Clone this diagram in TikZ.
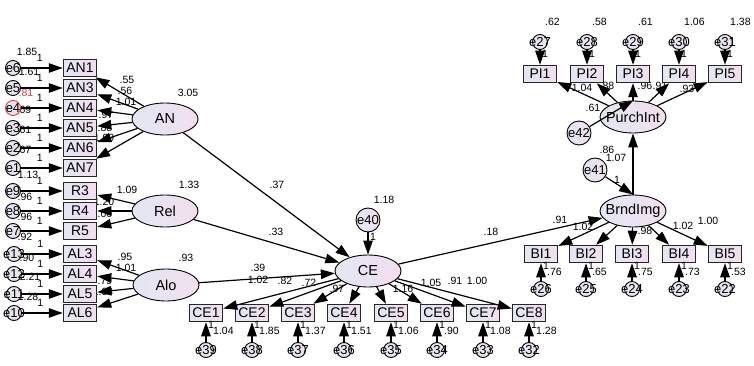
\documentclass[tikz,border=0pt]{standalone}
\usepackage{fontspec}
\setmainfont{Liberation Sans}
\usepackage{xcolor}
\usepackage{tikz}
\usetikzlibrary{arrows.meta,shapes.geometric}

\definecolor{fillL}{RGB}{226,231,243}
\definecolor{fillR}{RGB}{242,222,238}
\definecolor{selred}{RGB}{225,60,60}
\newcommand{\ctr}[1]{\makebox[0pt]{#1}}

\begin{document}
\begin{tikzpicture}[
  x=1pt, y=-1pt,
  >={Triangle[length=14pt,width=9.5pt]},
  obs/.style={rectangle, draw=black!85, line width=1.5pt, minimum width=33pt,
              minimum height=17pt, inner sep=0pt, left color=fillL, right color=fillR,
              font=\fontsize{14}{14}\selectfont},
  lat/.style={ellipse, draw, line width=0.9pt, minimum width=66pt, minimum height=32pt,
              inner sep=0pt, left color=fillL, right color=fillR,
              font=\fontsize{14.5}{14}\selectfont},
  err/.style={circle, draw, line width=0.9pt, minimum size=15pt, inner sep=0pt,
              left color=fillL, right color=fillR, font=\fontsize{13}{13}\selectfont},
  dist/.style={err, minimum size=24pt},
  arr/.style={->, line width=1.2pt},
  num/.style={font=\fontsize{10.5}{10}\selectfont, inner sep=0pt},
  one/.style={num, above=6pt},
]
\useasboundingbox[fill=white] (0,0) rectangle (754,366);

% numbers on the left block
\node[num] (v1) at (27,52) {1.85};
\node[num] (v2) at (29,72) {1.61};
\node[num, text=selred] (v3) at (26,93) {.81};
\node[num] (v4) at (24,110) {.69};
\node[num] (v5) at (24,130) {.61};
\node[num] (v6) at (24,150) {.67};
\node[num] (v7) at (28,175) {1.13};
\node[num] (v8) at (25,197) {.96};
\node[num] (v9) at (25,217) {.96};
\node[num] (v10) at (25,237) {.92};
\node[num] (v11) at (27,258) {.90};
\node[num] (v12) at (30,277) {2.21};
\node[num] (v13) at (28,297) {1.28};

% loadings
\node[num] (lA1) at (127,80) {.55};
\node[num] (lA3) at (125,91) {.56};
\node[num] (lA4) at (126,102) {1.01};
\node[num] (lA5) at (106,115) {.97};
\node[num] (lA6) at (105,128) {.88};
\node[num] (lA7) at (104,138) {1.09};
\node[num] (lR3) at (127,190) {1.09};
\node[num] (lR4) at (104,202) {1.20};
\node[num] (lR5) at (102,214) {1.00};
\node[num] (lL3) at (125,257) {.95};
\node[num] (lL4) at (126,268) {1.01};
\node[num] (lL5) at (105,281) {.79};
\node[num] (lL6) at (103,292) {1.04};

\node[num] (lC1) at (258,280) {1.02};
\node[num] (lC2) at (285,281) {.82};
\node[num] (lC3) at (309,283) {.72};
\node[num] (lC4) at (337,289) {.97};
\node[num] (lC5) at (403,289) {1.16};
\node[num] (lC6) at (431,283) {1.05};
\node[num] (lC7) at (455,281) {.91};
\node[num] (lC8) at (477,281) {1.00};

\node[num] (lB1) at (560,220) {.91};
\node[num] (lB2) at (583,227) {1.02};
\node[num] (lB3) at (645,231) {.98};
\node[num] (lB4) at (683,226) {1.02};
\node[num] (lB5) at (708,221) {1.00};

\node[num] (lP1) at (582,88) {1.04};
\node[num] (lP2) at (607,86) {.88};
\node[num] (lP3) at (645,86) {.96};
\node[num] (lP4) at (660,86) {.91};
\node[num] (lP5) at (687,89) {.93};

% structural weights
\node[num] (sAN) at (277,185) {.37};
\node[num] (sRel) at (276,232) {.33};
\node[num] (sAlo) at (258,268) {.39};
\node[num] (sCE) at (491,232) {.18};
\node[num] (sBI) at (616,158) {1.07};
\node[num] (f40) at (373,237) {1};
\node[num] (f41) at (617,180) {1};

% latent variables
\node[lat] (AN) at (165,119) {\ctr{AN}};
\node[lat] (Rel) at (165,211) {\ctr{Rel}};
\node[lat] (Alo) at (166,285) {\ctr{Alo}};
\node[lat] (CE) at (368,271) {\ctr{CE}};
\node[lat] (BrndImg) at (633,211) {\ctr{BrndImg}};
\node[lat] (PurchInt) at (633,117) {\ctr{PurchInt}};

\node[num] (vAN) at (188,93) {3.05};
\node[num] (vRel) at (189,185) {1.33};
\node[num] (vAlo) at (186,258) {.93};

% disturbances
\node[dist] (e40) at (368,220) {\ctr{e40}};
\node[dist] (e41) at (595,170) {\ctr{e41}};
\node[dist] (e42) at (579,133) {\ctr{e42}};
\node[num] (v40) at (384,200) {1.18};
\node[num] (v41) at (607,150) {.86};
\node[num] (v42) at (593,108) {.61};

% AN indicators
\node[obs] (AN1) at (80,68) {AN1};
\node[obs] (AN3) at (80,88) {AN3};
\node[obs] (AN4) at (80,108) {AN4};
\node[obs] (AN5) at (80,128) {AN5};
\node[obs] (AN6) at (80,148) {AN6};
\node[obs] (AN7) at (80,168) {AN7};
\node[err] (e6) at (13,68) {\ctr{e6}};
\node[err] (e5) at (13,88) {\ctr{e5}};
\node[err, draw=selred] (e4) at (13,108) {\ctr{e4}};
\node[err] (e3) at (13,128) {\ctr{e3}};
\node[err] (e2) at (13,148) {\ctr{e2}};
\node[err] (e1) at (13,168) {\ctr{e1}};

% Rel indicators
\node[obs] (R3) at (80,191) {R3};
\node[obs] (R4) at (80,211) {R4};
\node[obs] (R5) at (80,231) {R5};
\node[err] (e9) at (13,191) {\ctr{e9}};
\node[err] (e8) at (13,211) {\ctr{e8}};
\node[err] (e7) at (13,231) {\ctr{e7}};

% Alo indicators
\node[obs] (AL3) at (80,254) {AL3};
\node[obs] (AL4) at (80,274) {AL4};
\node[obs] (AL5) at (80,294) {AL5};
\node[obs] (AL6) at (80,313) {AL6};
\node[err] (e13) at (14,254) {\ctr{e13}};
\node[err] (e12) at (14,274) {\ctr{e12}};
\node[err] (e11) at (14,294) {\ctr{e11}};
\node[err] (e10) at (14,313) {\ctr{e10}};

% CE indicators
\node[obs] (CE1) at (206,313) {CE1};
\node[obs] (CE2) at (252,313) {CE2};
\node[obs] (CE3) at (298,313) {CE3};
\node[obs] (CE4) at (344,313) {CE4};
\node[obs] (CE5) at (391,313) {CE5};
\node[obs] (CE6) at (437,313) {CE6};
\node[obs] (CE7) at (483,313) {CE7};
\node[obs] (CE8) at (529,313) {CE8};
\node[err] (e39) at (206,350) {\ctr{e39}};
\node[err] (e38) at (252,350) {\ctr{e38}};
\node[err] (e37) at (298,350) {\ctr{e37}};
\node[err] (e36) at (344,350) {\ctr{e36}};
\node[err] (e35) at (391,350) {\ctr{e35}};
\node[err] (e34) at (437,350) {\ctr{e34}};
\node[err] (e33) at (483,350) {\ctr{e33}};
\node[err] (e32) at (529,350) {\ctr{e32}};

% BrndImg indicators
\node[obs] (BI1) at (541,254) {BI1};
\node[obs] (BI2) at (586,254) {BI2};
\node[obs] (BI3) at (632,254) {BI3};
\node[obs] (BI4) at (679,254) {BI4};
\node[obs] (BI5) at (725,254) {BI5};
\node[err] (e26) at (541,289) {\ctr{e26}};
\node[err] (e25) at (586,289) {\ctr{e25}};
\node[err] (e24) at (632,289) {\ctr{e24}};
\node[err] (e23) at (679,289) {\ctr{e23}};
\node[err] (e22) at (725,289) {\ctr{e22}};

% PurchInt indicators
\node[obs] (PI1) at (540,74) {PI1};
\node[obs] (PI2) at (587,74) {PI2};
\node[obs] (PI3) at (633,74) {PI3};
\node[obs] (PI4) at (679,74) {PI4};
\node[obs] (PI5) at (725,74) {PI5};
\node[err] (e27) at (540,42) {\ctr{e27}};
\node[err] (e28) at (587,42) {\ctr{e28}};
\node[err] (e29) at (633,42) {\ctr{e29}};
\node[err] (e30) at (679,42) {\ctr{e30}};
\node[err] (e31) at (725,42) {\ctr{e31}};

% error variances, bottom and top rows
\node[num, anchor=west] (v39) at (213,331) {1.04};
\node[num, anchor=west] (v38) at (259,331) {1.85};
\node[num, anchor=west] (v37) at (305,331) {1.37};
\node[num, anchor=west] (v36) at (351,331) {1.51};
\node[num, anchor=west] (v35) at (398,331) {1.06};
\node[num, anchor=west] (v34) at (444,331) {.90};
\node[num, anchor=west] (v33) at (490,331) {1.08};
\node[num, anchor=west] (v32) at (536,331) {1.28};
\node[num, anchor=west] (v26) at (547,272) {.76};
\node[num, anchor=west] (v25) at (592,272) {.65};
\node[num, anchor=west] (v24) at (638,272) {.75};
\node[num, anchor=west] (v23) at (685,272) {.73};
\node[num, anchor=west] (v22) at (731,272) {.53};
\node[num, anchor=west] (v27) at (545,22) {.62};
\node[num, anchor=west] (v28) at (592,22) {.58};
\node[num, anchor=west] (v29) at (638,22) {.61};
\node[num, anchor=west] (v30) at (684,22) {1.06};
\node[num, anchor=west] (v31) at (730,22) {1.38};

% error paths, left
\draw[arr] (e6) -- (AN1) node[one, pos=0.45] {1};
\draw[arr] (e5) -- (AN3) node[one, pos=0.45] {1};
\draw[arr] (e4) -- (AN4) node[one, pos=0.45] {1};
\draw[arr] (e3) -- (AN5) node[one, pos=0.45] {1};
\draw[arr] (e2) -- (AN6) node[one, pos=0.45] {1};
\draw[arr] (e1) -- (AN7) node[one, pos=0.45] {1};
\draw[arr] (e9) -- (R3) node[one, pos=0.45] {1};
\draw[arr] (e8) -- (R4) node[one, pos=0.45] {1};
\draw[arr] (e7) -- (R5) node[one, pos=0.45] {1};
\draw[arr] (e13) -- (AL3) node[one, pos=0.45] {1};
\draw[arr] (e12) -- (AL4) node[one, pos=0.45] {1};
\draw[arr] (e11) -- (AL5) node[one, pos=0.45] {1};
\draw[arr] (e10) -- (AL6) node[one, pos=0.45] {1};

% loadings, left
\draw[arr] (AN) -- (AN1);
\draw[arr] (AN) -- (AN3);
\draw[arr] (AN) -- (AN4);
\draw[arr] (AN) -- (AN5);
\draw[arr] (AN) -- (AN6);
\draw[arr] (AN) -- (AN7);
\draw[arr] (Rel) -- (R3);
\draw[arr] (Rel) -- (R4);
\draw[arr] (Rel) -- (R5);
\draw[arr] (Alo) -- (AL3);
\draw[arr] (Alo) -- (AL4);
\draw[arr] (Alo) -- (AL5);
\draw[arr] (Alo) -- (AL6);

% structural paths
\draw[arr] (AN) -- (CE);
\draw[arr] (Rel) -- (CE);
\draw[arr] (Alo) -- (CE);
\draw[arr] (CE) -- (BrndImg);
\draw[arr] (BrndImg) -- (PurchInt);
\draw[arr] (e40) -- (CE);
\draw[arr] (e41) -- (BrndImg.north);
\draw[arr] (e42) -- (PurchInt.north);

% CE measurement
\draw[arr] (CE) -- (CE1);
\draw[arr] (CE) -- (CE2);
\draw[arr] (CE) -- (CE3);
\draw[arr] (CE) -- (CE4);
\draw[arr] (CE) -- (CE5);
\draw[arr] (CE) -- (CE6);
\draw[arr] (CE) -- (CE7);
\draw[arr] (CE) -- (CE8);
\draw[arr] (e39) -- (CE1) node[num, pos=0.85, xshift=5pt] {1};
\draw[arr] (e38) -- (CE2) node[num, pos=0.85, xshift=5pt] {1};
\draw[arr] (e37) -- (CE3) node[num, pos=0.85, xshift=5pt] {1};
\draw[arr] (e36) -- (CE4) node[num, pos=0.85, xshift=5pt] {1};
\draw[arr] (e35) -- (CE5) node[num, pos=0.85, xshift=5pt] {1};
\draw[arr] (e34) -- (CE6) node[num, pos=0.85, xshift=5pt] {1};
\draw[arr] (e33) -- (CE7) node[num, pos=0.85, xshift=5pt] {1};
\draw[arr] (e32) -- (CE8) node[num, pos=0.85, xshift=5pt] {1};

% BrndImg measurement
\draw[arr] (BrndImg) -- (BI1);
\draw[arr] (BrndImg) -- (BI2);
\draw[arr] (BrndImg) -- (BI3);
\draw[arr] (BrndImg) -- (BI4);
\draw[arr] (BrndImg) -- (BI5);
\draw[arr] (e26) -- (BI1) node[num, pos=0.85, xshift=5pt] {1};
\draw[arr] (e25) -- (BI2) node[num, pos=0.85, xshift=5pt] {1};
\draw[arr] (e24) -- (BI3) node[num, pos=0.85, xshift=5pt] {1};
\draw[arr] (e23) -- (BI4) node[num, pos=0.85, xshift=5pt] {1};
\draw[arr] (e22) -- (BI5) node[num, pos=0.85, xshift=5pt] {1};

% PurchInt measurement
\draw[arr] (PurchInt) -- (PI1);
\draw[arr] (PurchInt) -- (PI2);
\draw[arr] (PurchInt) -- (PI3);
\draw[arr] (PurchInt) -- (PI4);
\draw[arr] (PurchInt) -- (PI5);
\draw[arr] (e27) -- (PI1) node[num, pos=0.3, xshift=5pt] {1};
\draw[arr] (e28) -- (PI2) node[num, pos=0.3, xshift=5pt] {1};
\draw[arr] (e29) -- (PI3) node[num, pos=0.3, xshift=5pt] {1};
\draw[arr] (e30) -- (PI4) node[num, pos=0.3, xshift=5pt] {1};
\draw[arr] (e31) -- (PI5) node[num, pos=0.3, xshift=5pt] {1};
\end{tikzpicture}
\end{document}
